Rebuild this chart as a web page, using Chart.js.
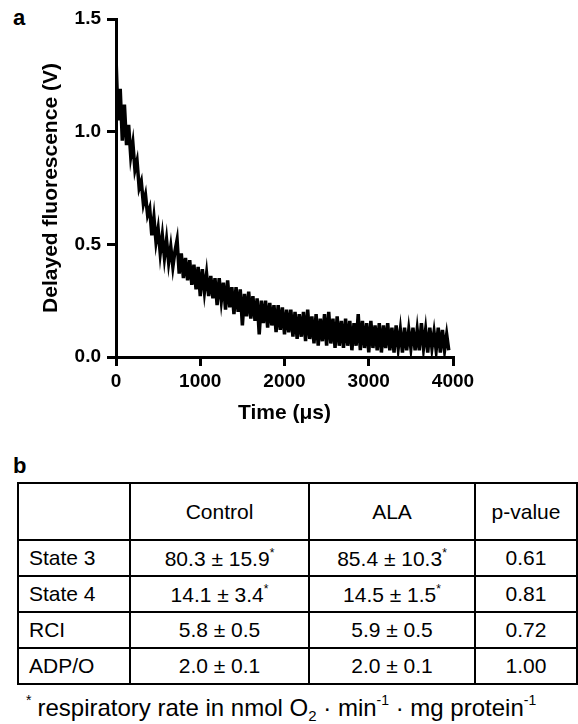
<!DOCTYPE html>
<html>
<head>
<meta charset="utf-8">
<script src="https://cdn.jsdelivr.net/npm/chart.js@4/dist/chart.umd.min.js"></script>
<style>
body { margin:0; background:#fff; width:578px; height:724px; position:relative; overflow:hidden;
       font-family:"Liberation Sans", Arial, sans-serif; color:#000; }
#chartBox { position:absolute; left:0; top:0; width:578px; height:440px; }
.panel { position:absolute; font-weight:bold; font-size:22px; line-height:1; }
#tbl { position:absolute; left:17px; top:482px; border-collapse:collapse; font-size:21px; table-layout:fixed; }
#tbl td { border:2.5px solid #000; text-align:center; padding:0; height:34px; }
#tbl tr.head td { height:55px; }
#tbl td.lbl { text-align:left; padding-left:10px; }
#tbl sup { font-size:12px; vertical-align:9px; }
#note { position:absolute; left:26px; top:693px; font-size:24px; line-height:1; white-space:nowrap; }
#note sup { font-size:14px; vertical-align:11px; }
#note sub { font-size:15px; vertical-align:-5px; }
#note .star { font-size:14px; vertical-align:11px; margin-right:6px; }
</style>
</head>
<body>
<div class="panel" style="left:13px;top:7px">a</div>
<div id="chartBox"><canvas id="decay"></canvas></div>
<div class="panel" style="left:13px;top:455px">b</div>
<table id="tbl">
  <colgroup><col style="width:112px"><col style="width:179px"><col style="width:166px"><col style="width:102px"></colgroup>
  <tbody id="tblBody"></tbody>
</table>
<div id="note"><span class="star">*</span>respiratory rate in nmol O<sub>2</sub> · min<sup>-1</sup> · mg protein<sup>-1</sup></div>

<script>
// delayed fluorescence trace, one reading every 25 us
const sampleStepUs = 25;
const fluorescenceV = [
  1.33, 1.05, 1.19, 0.96, 1.12, 0.94, 1.03, 0.89, 0.95, 0.83,
  0.87, 0.75, 0.78, 0.68, 0.72, 0.63, 0.66, 0.54, 0.62, 0.51,
  0.57, 0.46, 0.54, 0.44, 0.52, 0.42, 0.49, 0.40, 0.47, 0.52,
  0.37, 0.46, 0.35, 0.44, 0.34, 0.43, 0.32, 0.41, 0.30, 0.40,
  0.27, 0.39, 0.29, 0.37, 0.27, 0.36, 0.26, 0.35, 0.23, 0.35,
  0.25, 0.33, 0.21, 0.34, 0.22, 0.31, 0.19, 0.31, 0.20, 0.30,
  0.14, 0.28, 0.18, 0.29, 0.17, 0.27, 0.16, 0.26, 0.10, 0.25,
  0.15, 0.25, 0.13, 0.24, 0.14, 0.23, 0.11, 0.23, 0.12, 0.22,
  0.10, 0.21, 0.11, 0.21, 0.09, 0.20, 0.08, 0.19, 0.09, 0.20,
  0.07, 0.21, 0.08, 0.18, 0.06, 0.19, 0.05, 0.17, 0.07, 0.19,
  0.05, 0.20, 0.06, 0.17, 0.04, 0.18, 0.05, 0.16, 0.04, 0.17,
  0.05, 0.16, 0.03, 0.15, 0.05, 0.19, 0.03, 0.16, 0.04, 0.15,
  0.02, 0.16, 0.04, 0.14, 0.03, 0.15, 0.02, 0.14, 0.04, 0.15,
  0.03, 0.13, 0.02, 0.14, 0.04, 0.12, 0.02, 0.13, 0.03, 0.12,
  0.04, 0.13, 0.03, 0.12, 0.03, 0.15, 0.04, 0.12, 0.02, 0.13,
  0.04, 0.11, 0.03, 0.13, 0.02, 0.12, 0.03, 0.10, 0.03
];
const xTicks = [0, 1000, 2000, 3000, 4000];
const yTicks = [0.0, 0.5, 1.0, 1.5];

// table b
const rowLabels = ['State 3', 'State 4', 'RCI', 'ADP/O'];
const controlVals = ['80.3 ± 15.9', '14.1 ± 3.4', '5.8 ± 0.5', '2.0 ± 0.1'];
const alaVals = ['85.4 ± 10.3', '14.5 ± 1.5', '5.9 ± 0.5', '2.0 ± 0.1'];
const pValues = ['0.61', '0.81', '0.72', '1.00'];
const starred = [true, true, false, false];

let points = []
for (let i = 0; i < fluorescenceV.length; i++) {
    points.push({x: i * sampleStepUs, y: fluorescenceV[i]})
}

const tickFont = {family: '"Liberation Sans", Arial, sans-serif', size: 19, weight: 'bold'};
const titleFont = {family: '"Liberation Sans", Arial, sans-serif', size: 21, weight: 'bold'};

new Chart(document.getElementById('decay'), {
    type: 'line',
    data: {
        datasets: [{
            data: points,
            borderColor: '#000',
            borderWidth: 3.5,
            pointRadius: 0,
            fill: false,
            tension: 0
        }]
    },
    options: {
        responsive: true,
        maintainAspectRatio: false,
        animation: false,
        events: [],
        layout: {padding: {top: 19, right: 125, left: 0, bottom: 0}},
        plugins: {legend: {display: false}, tooltip: {enabled: false}},
        scales: {
            x: {
                type: 'linear',
                min: 0, max: 4000,
                afterBuildTicks: s => { s.ticks = xTicks.map(v => ({value: v})) },
                afterFit: s => { s.height = 83 },
                ticks: {color: '#000', font: tickFont, padding: 4, maxRotation: 0, callback: v => String(v)},
                grid: {drawOnChartArea: false, color: '#000', lineWidth: 3, tickLength: 9, tickWidth: 3},
                border: {color: '#000', width: 3},
                title: {display: true, text: 'Time (μs)', color: '#000', font: titleFont, padding: {top: 0, bottom: 14}}
            },
            y: {
                min: 0, max: 1.5,
                afterBuildTicks: s => { s.ticks = yTicks.map(v => ({value: v})) },
                afterFit: s => { s.width = 116 },
                ticks: {color: '#000', font: tickFont, padding: 6, callback: v => v.toFixed(1)},
                grid: {drawOnChartArea: false, color: '#000', lineWidth: 3, tickLength: 9, tickWidth: 3},
                border: {color: '#000', width: 3},
                title: {display: true, text: 'Delayed fluorescence (V)', color: '#000', font: titleFont, padding: {top: 39, bottom: 0}}
            }
        }
    }
});

// build the table from the arrays
const body = document.getElementById('tblBody');
let head = '<tr class="head"><td></td><td>Control</td><td>ALA</td><td>p-value</td></tr>';
let rows = '';
for (let r = 0; r < rowLabels.length; r++) {
    const star = starred[r] ? '<sup>*</sup>' : '';
    rows += '<tr><td class="lbl">' + rowLabels[r] + '</td><td>' + controlVals[r] + star +
            '</td><td>' + alaVals[r] + star + '</td><td>' + pValues[r] + '</td></tr>';
}
body.innerHTML = head + rows;
</script>
</body>
</html>
